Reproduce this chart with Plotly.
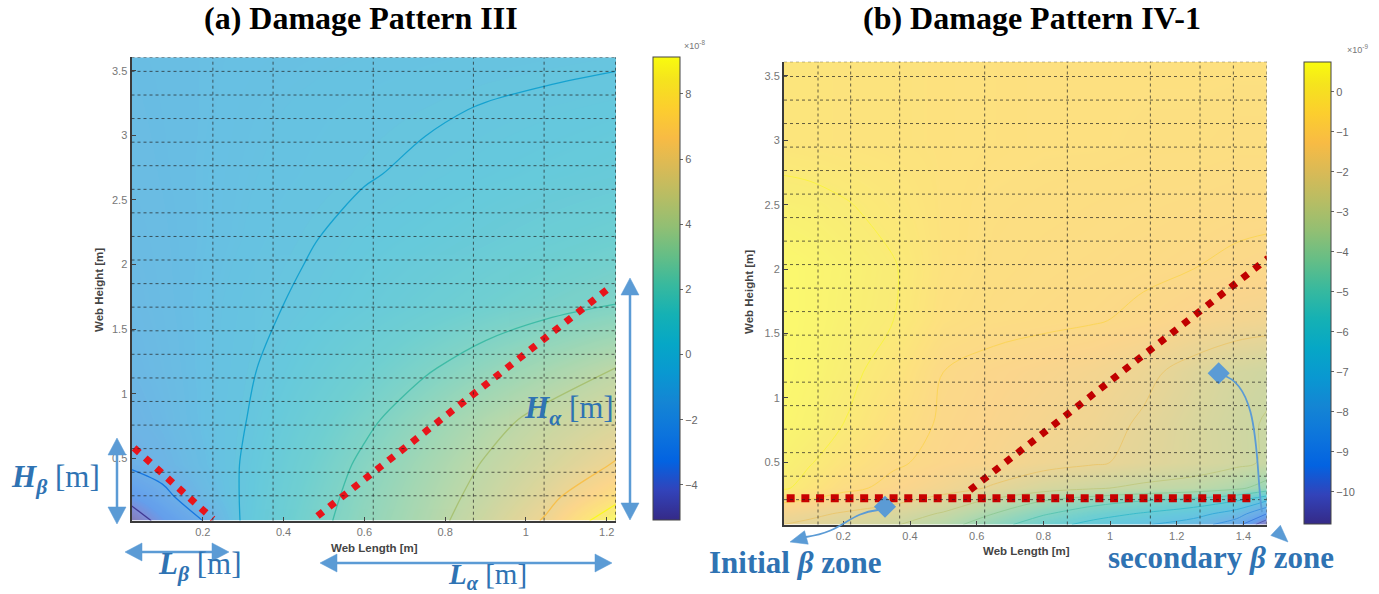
import math
import plotly.graph_objects as go

W, H = 1379, 594

# ---------------- data ----------------
# Panel (a): Damage Pattern III  (colour unit x10^-8)
xa = [0.024, 0.1, 0.2, 0.3, 0.45, 0.6, 0.75, 0.9, 1.05, 1.222]
ya = [0.017, 0.2, 0.45, 0.8, 1.2, 1.7, 2.2, 2.7, 3.2, 3.604]
za = [
    [-5.0, -3.43, -2.0, 0.17, 1.48, 2.57, 3.52, 4.7, 6.15, 9.1],
    [-3.4, -2.4, -1.1, 0.12, 1.35, 2.44, 3.4, 4.4, 5.6, 7.5],
    [-1.75, -1.4, -0.7, 0.07, 1.16, 2.22, 3.16, 4.1, 5.0, 6.1],
    [-1.4, -1.1, -0.55, -0.05, 0.85, 1.76, 2.67, 3.58, 4.36, 5.1],
    [-1.2, -0.95, -0.55, -0.15, 0.5, 1.18, 1.86, 2.55, 3.23, 4.0],
    [-1.05, -0.85, -0.55, -0.25, 0.12, 0.5, 0.88, 1.25, 1.6, 1.97],
    [-0.95, -0.8, -0.6, -0.4, -0.08, 0.25, 0.45, 0.7, 0.95, 1.2],
    [-0.85, -0.75, -0.6, -0.45, -0.27, -0.06, 0.14, 0.3, 0.45, 0.6],
    [-0.8, -0.72, -0.62, -0.5, -0.36, -0.22, -0.1, 0.04, 0.15, 0.27],
    [-0.75, -0.7, -0.62, -0.55, -0.48, -0.4, -0.32, -0.25, -0.18, -0.1],
]
za_range = [-5.07, 9.14]
za_ticks = [-4, -2, 0, 2, 4, 6, 8]

# Panel (b): Damage Pattern IV-1  (colour unit x10^-9)
xb = [0.022, 0.1, 0.2, 0.35, 0.5, 0.65, 0.8, 0.95, 1.1, 1.25, 1.38, 1.47]
yb = [0.017, 0.1, 0.2, 0.3, 0.5, 0.8, 1.2, 1.6, 2.0, 2.5, 3.0, 3.61]
zb = [
    [-2.0, -2.2, -2.5, -2.9, -3.6, -4.6, -5.6, -6.3, -6.9, -7.5, -8.6, -10.8],
    [-1.6, -1.8, -2.1, -2.5, -3.1, -4.0, -4.9, -5.6, -6.1, -6.6, -7.5, -9.0],
    [-0.9, -1.1, -1.4, -1.8, -2.4, -3.2, -4.0, -4.6, -5.0, -5.4, -6.0, -7.0],
    [0.1, -0.3, -0.8, -1.2, -1.6, -2.1, -2.6, -2.9, -3.2, -3.4, -3.8, -4.4],
    [0.3, 0.05, -0.4, -0.9, -1.2, -1.4, -1.7, -1.9, -2.2, -2.5, -2.8, -3.1],
    [0.5, 0.35, 0.0, -0.6, -1.1, -1.3, -1.5, -1.7, -2.1, -2.5, -2.85, -3.05],
    [0.6, 0.45, 0.2, -0.3, -1.0, -1.2, -1.35, -1.5, -1.8, -2.3, -2.7, -2.85],
    [0.6, 0.5, 0.3, 0.0, -0.6, -0.8, -0.88, -0.96, -1.1, -1.35, -1.55, -1.65],
    [0.6, 0.5, 0.35, 0.05, -0.5, -0.7, -0.8, -0.85, -0.92, -1.0, -1.07, -1.12],
    [0.25, 0.2, 0.05, -0.2, -0.5, -0.65, -0.7, -0.75, -0.8, -0.85, -0.9, -0.9],
    [-0.3, -0.35, -0.4, -0.45, -0.5, -0.55, -0.6, -0.6, -0.65, -0.65, -0.7, -0.7],
    [-0.3, -0.35, -0.4, -0.45, -0.5, -0.55, -0.6, -0.6, -0.6, -0.6, -0.6, -0.6],
]
zb_range = [-10.8, 0.75]
zb_ticks = [-10, -9, -8, -7, -6, -5, -4, -3, -2, -1, 0]

# axis ticks
xa_ticks = [0.2, 0.4, 0.6, 0.8, 1.0, 1.2]
xb_ticks = [0.2, 0.4, 0.6, 0.8, 1.0, 1.2, 1.4]
y_ticks = [0.5, 1.0, 1.5, 2.0, 2.5, 3.0, 3.5]

# mesh (dotted) lines of the model
mesh_xa = [0.225, 0.374, 0.622, 0.87, 1.045, 1.222]
mesh_xb = [0.124, 0.222, 0.369, 0.624, 0.872, 1.121, 1.27, 1.37, 1.47]
mesh_y = [0.21, 0.392, 0.575, 0.757, 0.94, 1.122, 1.305, 1.487, 1.67, 1.852,
          2.035, 2.217, 2.4, 2.582, 2.765, 2.947, 3.13, 3.312, 3.495]

# red dotted boundary lines
a_beta_x, a_beta_y = [0.03, 0.225], [0.58, 0.03]
a_alpha_x, a_alpha_y = [0.484, 1.215], [0.053, 1.84]
b_diag_x, b_diag_y = [0.58, 1.475], [0.285, 2.086]
b_hor_x, b_hor_y = [0.03, 1.44], [0.22, 0.22]
# blue diamond markers in (b)
b_mark_x, b_mark_y = [0.325, 1.326], [0.155, 1.191]

# ---------------- styling ----------------
parula = [
    [0.2081, 0.1663, 0.5292], [0.1959, 0.2645, 0.7279], [0.0117, 0.3875, 0.8820],
    [0.0498, 0.4586, 0.8641], [0.0793, 0.5200, 0.8312], [0.0343, 0.5966, 0.8199],
    [0.0228, 0.6535, 0.7768], [0.0843, 0.6928, 0.7062], [0.2178, 0.7250, 0.6193],
    [0.3953, 0.7459, 0.5244], [0.5709, 0.7485, 0.4494], [0.7184, 0.7411, 0.3905],
    [0.8507, 0.7299, 0.3360], [0.9739, 0.7314, 0.2666], [0.9880, 0.8066, 0.1794],
    [0.9589, 0.8949, 0.1132], [0.9763, 0.9831, 0.0538]]
pidx = [0, 4, 8, 12, 16, 20, 24, 28, 32, 36, 40, 44, 48, 52, 56, 60, 63]
PARULA = [[i / 63, "rgb(%d,%d,%d)" % tuple(round(c * 255) for c in col)]
          for i, col in zip(pidx, parula)]

BLUE = "#5b9bd5"
TXT = "#2f73b3"
SERIF = "Liberation Serif"
SANS = "Liberation Sans"
FIELD_OPACITY = 0.61


def px(v):
    return v / W


def py(v):
    return 1 - v / H


fig = go.Figure()

# panel (a)
fig.add_trace(go.Heatmap(x=xa, y=ya, z=za, zsmooth="best", colorscale=PARULA,
                         zmin=za_range[0], zmax=za_range[1], opacity=FIELD_OPACITY,
                         xaxis="x", yaxis="y", hoverinfo="skip",
                         colorbar=dict(x=px(653), xanchor="left", y=py(56.7), yanchor="top",
                                       len=(520 - 56.7) / H, lenmode="fraction",
                                       thickness=27, xpad=0, ypad=0,
                                       outlinewidth=1, outlinecolor="#444",
                                       tickvals=za_ticks, ticks="outside", ticklen=3,
                                       tickcolor="#666",
                                       tickfont=dict(size=11, color="#666", family=SANS))))
fig.add_trace(go.Contour(x=xa, y=ya, z=za, colorscale=PARULA, zmin=za_range[0], zmax=za_range[1],
                         contours=dict(coloring="lines", start=-4, end=8, size=2),
                         line=dict(width=1.3), showscale=False, opacity=0.85,
                         xaxis="x", yaxis="y", hoverinfo="skip"))

# panel (b)
fig.add_trace(go.Heatmap(x=xb, y=yb, z=zb, zsmooth="best", colorscale=PARULA,
                         zmin=zb_range[0], zmax=zb_range[1], opacity=FIELD_OPACITY,
                         xaxis="x2", yaxis="y2", hoverinfo="skip",
                         colorbar=dict(x=px(1304), xanchor="left", y=py(61.7), yanchor="top",
                                       len=(524 - 61.7) / H, lenmode="fraction",
                                       thickness=27, xpad=0, ypad=0,
                                       outlinewidth=1, outlinecolor="#444",
                                       tickvals=zb_ticks, ticks="outside", ticklen=3,
                                       tickcolor="#666",
                                       tickfont=dict(size=11, color="#666", family=SANS))))
fig.add_trace(go.Contour(x=xb, y=yb, z=zb, colorscale=PARULA, zmin=zb_range[0], zmax=zb_range[1],
                         contours=dict(coloring="lines", start=-10, end=0, size=1),
                         line=dict(width=1), showscale=False, opacity=0.5,
                         xaxis="x2", yaxis="y2", hoverinfo="skip"))

# red boundary lines
fig.add_trace(go.Scatter(x=a_beta_x, y=a_beta_y, mode="lines", xaxis="x", yaxis="y",
                         line=dict(color="#e8141b", width=7, dash="7px,8px"), cliponaxis=False))
fig.add_trace(go.Scatter(x=a_alpha_x, y=a_alpha_y, mode="lines", xaxis="x", yaxis="y",
                         line=dict(color="#e8141b", width=7, dash="7px,8px"), cliponaxis=False))
fig.add_trace(go.Scatter(x=b_diag_x, y=b_diag_y, mode="lines", xaxis="x2", yaxis="y2",
                         line=dict(color="#c00000", width=7, dash="7px,8px"), cliponaxis=False))
fig.add_trace(go.Scatter(x=b_hor_x, y=b_hor_y, mode="lines", xaxis="x2", yaxis="y2",
                         line=dict(color="#c80000", width=8, dash="8px,6.7px"), cliponaxis=False))
fig.add_trace(go.Scatter(x=b_mark_x, y=b_mark_y, mode="markers", xaxis="x2", yaxis="y2",
                         marker=dict(symbol="diamond", size=17, color=BLUE), cliponaxis=False))

# ---------------- axes ----------------
common = dict(showgrid=False, zeroline=False, ticks="inside", ticklen=4, tickcolor="#444",
              showline=True, linecolor="#3a3a3a", linewidth=2, mirror=False,
              tickfont=dict(size=11, color="#777", family=SANS))
fig.update_layout(
    width=W, height=H, margin=dict(l=0, r=0, t=0, b=0),
    paper_bgcolor="white", plot_bgcolor="white", showlegend=False,
    xaxis=dict(domain=[px(131.5), px(616)], range=[0.0235, 1.223], tickvals=xa_ticks,
               anchor="y", **common),
    yaxis=dict(domain=[py(520.7), py(57.3)], range=[0.017, 3.604], tickvals=y_ticks,
               anchor="x", **common),
    xaxis2=dict(domain=[px(784), px(1266.7)], range=[0.022, 1.47], tickvals=xb_ticks,
                anchor="y2", **common),
    yaxis2=dict(domain=[py(524.5), py(61.7)], range=[0.017, 3.61], tickvals=y_ticks,
                anchor="x2", **common),
)

# dotted mesh lines
shapes = []
grid_line = dict(color="rgba(35,35,35,0.7)", width=1, dash="dot")
for xr, yr, mx, top in (("x", "y", mesh_xa, 3.604), ("x2", "y2", mesh_xb, 3.61)):
    for g in mx:
        shapes.append(dict(type="line", xref=xr, yref=yr + " domain", x0=g, x1=g, y0=0, y1=1,
                           line=grid_line, layer="above"))
    for g in mesh_y + [top]:
        shapes.append(dict(type="line", xref=xr + " domain", yref=yr, x0=0, x1=1, y0=g, y1=g,
                           line=grid_line, layer="above"))


# ---------------- blue pointer arrows (drawn as shapes) ----------------
def head_shape(tx, ty, fx, fy, length, width):
    """filled triangular head with its tip at (tx,ty), coming from (fx,fy); pixels."""
    d = math.hypot(tx - fx, ty - fy)
    ux, uy = (tx - fx) / d, (ty - fy) / d
    bx, by = tx - ux * length, ty - uy * length
    nx, ny = -uy * width / 2, ux * width / 2
    pts = [(tx, ty), (bx + nx, by + ny), (bx - nx, by - ny)]
    p = "M " + " L ".join("%f,%f" % (px(a), py(b)) for a, b in pts) + " Z"
    shapes.append(dict(type="path", xref="paper", yref="paper", layer="above", path=p,
                       fillcolor=BLUE, line=dict(color=BLUE, width=0.5)))
    return bx, by


def arrow2(x0, y0, x1, y1, length=17, width=18, lw=2.5):
    b1 = head_shape(x1, y1, x0, y0, length, width)
    b0 = head_shape(x0, y0, x1, y1, length, width)
    shapes.append(dict(type="line", xref="paper", yref="paper", layer="above",
                       x0=px(b0[0]), y0=py(b0[1]), x1=px(b1[0]), y1=py(b1[1]),
                       line=dict(color=BLUE, width=lw)))


def curve(pts):
    s = "M %f,%f" % (px(pts[0][0]), py(pts[0][1]))
    s += " C " + " ".join("%f,%f" % (px(a), py(b)) for a, b in pts[1:])
    shapes.append(dict(type="path", xref="paper", yref="paper", layer="above", path=s,
                       line=dict(color=BLUE, width=1.8)))


arrow2(117, 524, 117, 438)     # H_beta
arrow2(125, 552, 229, 552)     # L_beta
arrow2(630, 520, 630, 278)     # H_alpha
arrow2(320, 563, 612, 563)     # L_alpha

curve([(878, 510), (846, 514), (846, 531), (806, 537)])
head_shape(790, 542, 808, 537, 17, 14)
curve([(1222, 375), (1262, 385), (1255, 470), (1262, 512), (1265, 522), (1268, 526), (1275, 530)])
head_shape(1288, 542, 1272, 527, 17, 14)

fig.update_layout(shapes=shapes)

# ---------------- text ----------------
ann = []


def label(x, y, text, size=32, color=TXT, family=SERIF, angle=0):
    ann.append(dict(x=px(x), y=py(y), xref="paper", yref="paper", text=text, showarrow=False,
                    xanchor="center", yanchor="middle", textangle=angle,
                    font=dict(size=size, color=color, family=family)))


label(361, 18, "<b>(a) Damage Pattern III</b>", color="black")
label(1032, 18, "<b>(b) Damage Pattern IV-1</b>", color="black")

label(56, 479, "<b><i>H</i></b><sub><b><i>β</i></b></sub> [m]", size=31)
label(200, 566, "<b><i>L</i></b><sub><b><i>β</i></b></sub> [m]", size=31)
label(569, 410, "<b><i>H</i></b><sub><b><i>α</i></b></sub> [m]", size=31)
label(487, 576, "<b><i>L</i></b><sub><b><i>α</i></b></sub> [m]", size=29)
label(795, 562, "<b>Initial <i>β</i> zone</b>", size=31)
label(1221, 557, "<b>secondary <i>β</i> zone</b>", size=31)

label(374, 548, "<b>Web Length [m]</b>", size=11.5, color="#444", family=SANS)
label(1026, 551, "<b>Web Length [m]</b>", size=11.5, color="#444", family=SANS)
label(99, 290, "<b>Web Height [m]</b>", size=11.5, color="#444", family=SANS, angle=-90)
label(749, 292, "<b>Web Height [m]</b>", size=11.5, color="#444", family=SANS, angle=-90)

label(694, 45, "×10<sup>-8</sup>", size=9, color="#777", family=SANS)
label(1357, 49, "×10<sup>-9</sup>", size=9, color="#777", family=SANS)

fig.update_layout(annotations=ann)

fig.write_html("out.html")
